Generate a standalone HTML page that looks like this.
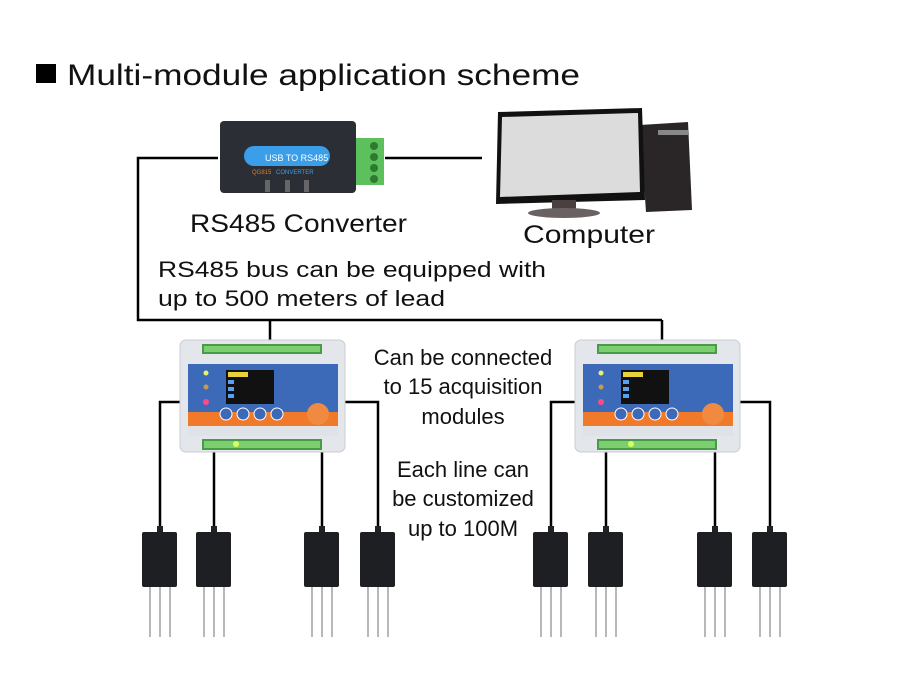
<!DOCTYPE html>
<html><head><meta charset="utf-8"><style>
html,body{margin:0;padding:0;background:#fff}
svg{display:block}
text{font-family:"Liberation Sans",sans-serif;fill:#111}
</style></head><body>
<svg width="900" height="700" viewBox="0 0 900 700" xmlns="http://www.w3.org/2000/svg">
<defs>
  <g id="mod">
    <rect x="0" y="0" width="165" height="112" rx="6" fill="#e3e6ea" stroke="#c8ccd2"/>
    <rect x="22" y="4" width="120" height="10" fill="#4a9a4a"/>
    <rect x="24" y="6" width="116" height="6" fill="#7ccf6e"/>
    <rect x="8" y="24" width="150" height="66" fill="#3d6ab8"/>
    <rect x="8" y="72" width="150" height="16" fill="#f07a2a"/>
    <rect x="8" y="86" width="150" height="10" fill="#dfe3e8"/>
    <rect x="46" y="30" width="48" height="34" fill="#111"/>
    <rect x="48" y="32" width="20" height="5" fill="#e8d23a"/>
    <rect x="48" y="40" width="6" height="4" fill="#5aa0f0"/>
    <rect x="48" y="47" width="6" height="4" fill="#5aa0f0"/>
    <rect x="48" y="54" width="6" height="4" fill="#5aa0f0"/>
    <circle cx="26" cy="33" r="2.5" fill="#e8f070"/>
    <circle cx="26" cy="47" r="2.5" fill="#c89a50"/>
    <circle cx="26" cy="62" r="3" fill="#ff4a8a"/>
    <circle cx="46" cy="74" r="6" fill="#3d6ab8" stroke="#fff" stroke-width="1"/>
    <circle cx="63" cy="74" r="6" fill="#3d6ab8" stroke="#fff" stroke-width="1"/>
    <circle cx="80" cy="74" r="6" fill="#3d6ab8" stroke="#fff" stroke-width="1"/>
    <circle cx="97" cy="74" r="6" fill="#3d6ab8" stroke="#fff" stroke-width="1"/>
    <circle cx="138" cy="74" r="11" fill="#f08a40"/>
    <rect x="22" y="99" width="120" height="11" fill="#4a9a4a"/>
    <rect x="24" y="101" width="116" height="7" fill="#7ccf6e"/>
    <circle cx="56" cy="104" r="3" fill="#d8ff60"/>
  </g>
  <g id="sen">
    <rect x="-3" y="-6" width="6" height="8" fill="#222"/>
    <rect x="-18" y="0" width="35" height="55" rx="2" fill="#1e1f22"/>
    <rect x="-11" y="55" width="2" height="50" fill="#b8b8b8"/>
    <rect x="-1" y="55" width="2" height="50" fill="#b8b8b8"/>
    <rect x="9" y="55" width="2" height="50" fill="#b8b8b8"/>
  </g>
</defs>

<rect x="36" y="64" width="20" height="19" fill="#000"/>
<text x="67" y="85" font-size="30" textLength="513" lengthAdjust="spacingAndGlyphs">Multi-module application scheme</text>

<!-- bus lines -->
<g stroke="#000" stroke-width="2.5" fill="none">
  <polyline points="218,158 138,158 138,320 662,320"/>
  <line x1="270" y1="320" x2="270" y2="345"/>
  <line x1="662" y1="320" x2="662" y2="345"/>
  <line x1="385" y1="158" x2="482" y2="158"/>
  <polyline points="182,402 160,402 160,530"/>
  <line x1="214" y1="452" x2="214" y2="530"/>
  <line x1="322" y1="452" x2="322" y2="530"/>
  <polyline points="345,402 378,402 378,530"/>
  <polyline points="577,402 551,402 551,530"/>
  <line x1="606" y1="452" x2="606" y2="530"/>
  <line x1="715" y1="452" x2="715" y2="530"/>
  <polyline points="740,402 770,402 770,530"/>
</g>

<!-- converter -->
<rect x="220" y="121" width="136" height="72" rx="4" fill="#2b2f35"/>
<rect x="356" y="138" width="28" height="47" fill="#5cc05c"/>
<circle cx="374" cy="146" r="4" fill="#2f7a2f"/><circle cx="374" cy="157" r="4" fill="#2f7a2f"/>
<circle cx="374" cy="168" r="4" fill="#2f7a2f"/><circle cx="374" cy="179" r="4" fill="#2f7a2f"/>
<rect x="244" y="146" width="86" height="20" rx="10" fill="#3a9ee8"/>
<text x="265" y="161" font-size="9" style="fill:#fff">USB TO RS485</text>
<text x="252" y="174" font-size="6" style="fill:#e07a30">QG815</text>
<text x="276" y="174" font-size="6" style="fill:#3aa0f0">CONVERTER</text>
<rect x="265" y="180" width="5" height="12" fill="#666"/><rect x="285" y="180" width="5" height="12" fill="#666"/><rect x="304" y="180" width="5" height="12" fill="#666"/>
<text x="190" y="232" font-size="25" textLength="217" lengthAdjust="spacingAndGlyphs">RS485 Converter</text>

<!-- computer -->
<polygon points="640,125 688,122 692,210 646,212" fill="#2a2526"/>
<rect x="658" y="130" width="30" height="5" fill="#888"/>
<polygon points="498,112 642,108 645,200 496,204" fill="#111"/>
<polygon points="502,117 638,113 640,192 500,197" fill="#dcdcdc"/>
<rect x="552" y="200" width="24" height="12" fill="#4a4040"/>
<ellipse cx="564" cy="213" rx="36" ry="5" fill="#6a6262"/>
<text x="523" y="243" font-size="25" textLength="132" lengthAdjust="spacingAndGlyphs">Computer</text>

<text x="158" y="277" font-size="22" textLength="388" lengthAdjust="spacingAndGlyphs">RS485 bus can be equipped with</text>
<text x="158" y="306" font-size="22" textLength="287" lengthAdjust="spacingAndGlyphs">up to 500 meters of lead</text>

<use href="#mod" x="180" y="340"/>
<use href="#mod" x="575" y="340"/>

<g font-size="22" text-anchor="middle">
  <text x="463" y="365">Can be connected</text>
  <text x="463" y="394">to 15 acquisition</text>
  <text x="463" y="424">modules</text>
  <text x="463" y="477">Each line can</text>
  <text x="463" y="506">be customized</text>
  <text x="463" y="536">up to 100M</text>
</g>

<use href="#sen" x="160" y="532"/>
<use href="#sen" x="214" y="532"/>
<use href="#sen" x="322" y="532"/>
<use href="#sen" x="378" y="532"/>
<use href="#sen" x="551" y="532"/>
<use href="#sen" x="606" y="532"/>
<use href="#sen" x="715" y="532"/>
<use href="#sen" x="770" y="532"/>
</svg>
</body></html>
